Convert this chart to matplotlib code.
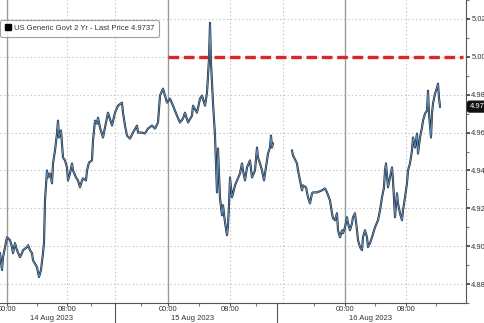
import numpy as np
import matplotlib
matplotlib.use('Agg')
import matplotlib.pyplot as plt
from matplotlib.lines import Line2D

plt.rcParams['font.family'] = ['Liberation Sans', 'DejaVu Sans']

# barras (indice da barra no eixo do Bloomberg) e rendimento
barra = [0, 2, 3, 7, 10, 12, 13, 15, 17, 20, 22, 23, 27, 28, 30, 32, 33, 37, 39, 41,
         43, 44, 45, 47, 48, 50, 52, 53, 55, 57, 58, 59, 61, 63, 65, 67, 68, 70, 72, 73,
         76, 78, 80, 82, 83, 86, 87, 89, 92, 93, 95, 97, 98, 100, 103, 105, 107, 108, 112, 115,
         118, 122, 123, 125, 127, 130, 133, 137, 138, 142, 145, 148, 152, 155, 158, 160, 163, 165, 167, 170,
         173, 177, 180, 183, 185, 188, 192, 193, 197, 200, 202, 205, 207, 209, 210, 211, 212, 213, 215, 216,
         217, 218, 219, 220, 222, 223, 225, 227, 228, 229, 230, 232, 235, 237, 240, 242, 243, 245, 247, 250,
         252, 255, 257, 258, 260, 262, 264, 267, 268, 270, 271, 272, 273, 282,
         292, 293, 297, 298, 300, 302, 303, 306, 308, 310, 312, 313, 317, 322, 325, 327, 330, 332, 333, 335,
         337, 338, 340, 342, 343, 345, 347, 348, 350, 352, 353, 355, 357, 358, 360, 362, 363, 365, 367, 368,
         370, 372, 375, 378, 380, 382, 384, 385, 386, 388, 390, 392, 393, 395, 397, 398, 400, 402, 403, 405,
         407, 408, 410, 412, 413, 415, 417, 418, 420, 422, 423, 425, 427, 428, 429, 431, 432, 433, 435, 437,
         438, 439, 440]
rendimento = [4.8963, 4.8874, 4.8942, 4.9047, 4.9032, 4.8995, 4.8963, 4.9016, 4.8979, 4.8942,
              4.8963, 4.8979, 4.8995, 4.9005, 4.8979, 4.8963, 4.8926, 4.8889, 4.8837, 4.8874,
              4.8963, 4.9016, 4.9242, 4.9400, 4.9363, 4.9384, 4.9332, 4.9437, 4.9505, 4.9595,
              4.9663, 4.9574, 4.9611, 4.9468, 4.9453, 4.9416, 4.9347, 4.9384, 4.9437, 4.9400,
              4.9363, 4.9347, 4.9311, 4.9347, 4.9358, 4.9347, 4.9400, 4.9442, 4.9453, 4.9558,
              4.9663, 4.9647, 4.9679, 4.9626, 4.9574, 4.9626, 4.9679, 4.9705, 4.9637, 4.9705,
              4.9742, 4.9758, 4.9705, 4.9637, 4.9584, 4.9568, 4.9600, 4.9637, 4.9600, 4.9600,
              4.9595, 4.9621, 4.9637, 4.9621, 4.9653, 4.9795, 4.9832, 4.9795, 4.9758, 4.9779,
              4.9742, 4.9689, 4.9653, 4.9674, 4.9705, 4.9653, 4.9689, 4.9742, 4.9705, 4.9779,
              4.9795, 4.9742, 4.9811, 4.9989, 5.0179, 4.9968, 4.9863, 4.9758, 4.9584, 4.9426,
              4.9284, 4.9516, 4.9389, 4.9253, 4.9163, 4.9216, 4.9126, 4.9058, 4.9111, 4.9216,
              4.9363, 4.9258, 4.9321, 4.9347, 4.9384, 4.9437, 4.9400, 4.9347, 4.9416, 4.9453,
              4.9363, 4.9400, 4.9521, 4.9468, 4.9437, 4.9400, 4.9347, 4.9453, 4.9489, 4.9521,
              4.9584, 4.9521, 4.9542, np.nan,
              4.9505, 4.9479, 4.9437, 4.9400, 4.9347, 4.9295, 4.9321, 4.9311, 4.9258, 4.9226,
              4.9279, 4.9284, 4.9284, 4.9295, 4.9305, 4.9284, 4.9242, 4.9174, 4.9147, 4.9137,
              4.9174, 4.9084, 4.9047, 4.9084, 4.9068, 4.9100, 4.9153, 4.9121, 4.9084, 4.9121,
              4.9153, 4.9174, 4.9084, 4.9032, 4.8995, 4.8979, 4.9047, 4.9084, 4.9047, 4.8995,
              4.9016, 4.9047, 4.9100, 4.9137, 4.9189, 4.9258, 4.9311, 4.9400, 4.9437, 4.9311,
              4.9363, 4.9416, 4.9347, 4.9153, 4.9279, 4.9226, 4.9174, 4.9137, 4.9189, 4.9258,
              4.9332, 4.9400, 4.9437, 4.9505, 4.9574, 4.9521, 4.9595, 4.9489, 4.9574, 4.9626,
              4.9663, 4.9700, 4.9716, 4.9821, 4.9700, 4.9574, 4.9700, 4.9753, 4.9805, 4.9837,
              4.9858, 4.9784, 4.9737]

ultimo = 4.9737
nivel = 5.00

# posicoes das horas no eixo (barras)
inicio_dia = [7, 168, 345]
oito_horas = [67, 230, 406]
dezesseis = [115, 283]
separador_dia = [115, 277]
datas = ['14 Aug 2023', '15 Aug 2023', '16 Aug 2023']
pos_datas = [52, 193, 371]
yticks = [4.88, 4.90, 4.92, 4.94, 4.96, 4.98, 5.00, 5.02]

fig = plt.figure(figsize=(4.85, 3.23), dpi=100)
ax = fig.add_axes([0, 20 / 323, 466 / 485, 303 / 323])
ax.set_xlim(0, 466)
ax.set_ylim(4.870, 5.0295)

# grade
for y in yticks:
    ax.axhline(y, color='#c4c4c4', lw=0.8, ls=(0, (1.2, 2.2)), zorder=0)
for x in oito_horas + dezesseis:
    ax.axvline(x, color='#c4c4c4', lw=0.8, ls=(0, (1.2, 2.2)), zorder=0)
for x in inicio_dia:
    ax.axvline(x, color='#9a9a9a', lw=1.0, zorder=0)

# linha de 5%
ax.hlines(nivel, inicio_dia[1], 463, color='#d9262b', lw=2.4, linestyles=(0, (3.2, 1.4)), zorder=2)

# serie
ax.plot(barra, rendimento, color='#222222', lw=1.5, zorder=3)
ax.plot(barra, rendimento, color='#5b8fc4', lw=0.7, zorder=4)

# eixos
for s in ['left', 'top']:
    ax.spines[s].set_visible(False)
ax.spines['right'].set_color('#555555')
ax.spines['bottom'].set_color('#555555')
ax.yaxis.tick_right()
ax.set_yticks(yticks)
ax.set_yticklabels(['%.2f' % v for v in yticks])
ax.set_yticks(np.arange(4.87, 5.03, 0.01), minor=True)
ax.tick_params(axis='y', which='major', direction='out', length=3, width=1.4, colors='#555555',
               labelsize=5.5, labelcolor='#333333', pad=0.8)
ax.tick_params(axis='y', which='minor', direction='out', length=2, width=0.8, colors='#777777')

ax.set_xticks(inicio_dia + oito_horas)
ax.set_xticklabels(['00:00'] * 3 + ['08:00'] * 3)
ax.set_xticks([37, 91, 141, 199, 256, 314, 375, 436], minor=True)
ax.tick_params(axis='x', which='major', direction='out', length=2, width=0.8, colors='#555555',
               labelsize=5.5, labelcolor='#333333', pad=0.5)
ax.tick_params(axis='x', which='minor', direction='out', length=2, width=0.8, colors='#777777')

for d, x in zip(datas, pos_datas):
    ax.text(x, -0.051, d, transform=ax.get_xaxis_transform(), ha='center', va='center',
            fontsize=5.5, color='#333333')
for x in separador_dia:
    ax.plot([x, x], [0, -0.07], transform=ax.get_xaxis_transform(), color='#555555',
            lw=0.8, clip_on=False)

# legenda
h = Line2D([], [], marker='s', color='black', ls='none', markersize=4.5)
leg = ax.legend([h], ['US Generic Govt 2 Yr - Last Price %.4f' % ultimo], loc='upper left',
                bbox_to_anchor=(0.0, 1 - 20 / 303), fontsize=5.5, frameon=True, borderaxespad=0,
                handlelength=0.8, handletextpad=0.4, borderpad=0.6, fancybox=True)
leg.get_frame().set_edgecolor('#888888')
leg.get_frame().set_linewidth(0.8)
for t in leg.get_texts():
    t.set_color('#333333')

# ultimo preco no eixo
ax.annotate('%.2f' % ultimo, xy=(1, ultimo), xycoords=('axes fraction', 'data'),
            xytext=(2.5, 0), textcoords='offset points', ha='left', va='center', fontsize=5.5,
            color='white', annotation_clip=False,
            bbox=dict(boxstyle='round,pad=0.25', fc='#111111', ec='#111111'))

fig.savefig('out.png', dpi=100)
